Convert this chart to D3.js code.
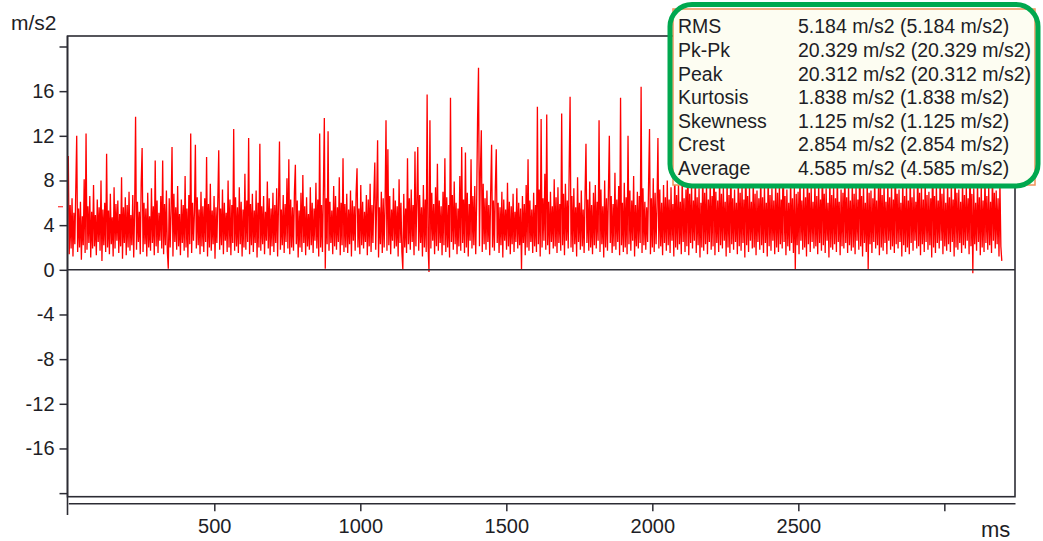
<!DOCTYPE html>
<html>
<head>
<meta charset="utf-8">
<script src="https://d3js.org/d3.v7.min.js"></script>
<style>
  body { margin: 0; background: #fff; }
  text { font-family: "Liberation Sans", Arial, sans-serif; fill: #1e1e26; }
</style>
</head>
<body>
<script>
// one sample every 3.2 ms, values in m/s2
var sampleMs = 3.2;
var signal = [
  10.2, 1.4, 5.8, 1.9, 6.4, 1.2, 5.1, 2.3, 7.2, 12.0, 1.6, 5.5, 2.0, 6.1, 0.9, 4.8, 2.2, 8.1, 1.5, 12.2,
  1.8, 5.7, 2.4, 6.6, 1.1, 5.2, 1.9, 7.6, 2.1, 4.9, 1.3, 6.3, 2.5, 5.6, 1.7, 8.0, 0.8, 5.4, 2.2, 6.0,
  1.6, 10.4, 2.0, 5.3, 1.4, 6.8, 2.3, 4.7, 1.2, 7.4, 1.9, 5.9, 2.6, 6.2, 1.5, 5.0, 2.1, 8.3, 1.0, 5.6,
  2.4, 6.5, 1.3, 5.8, 2.0, 7.0, 1.7, 4.9, 2.2, 6.7, 1.1, 5.4, 13.7, 1.8, 6.1, 2.5, 5.2, 1.4, 7.8, 10.9,
  1.6, 6.0, 2.3, 5.5, 1.2, 6.9, 2.0, 4.8, 1.7, 7.3, 2.4, 5.7, 1.3, 9.8, 2.1, 6.2, 1.5, 5.1, 2.6, 6.6,
  1.9, 9.8, 1.4, 5.9, 2.2, 7.1, 1.6, 0.1, 6.4, 2.0, 5.3, 11.0, 1.2, 6.8, 2.5, 5.6, 1.8, 7.5, 2.1, 5.0,
  1.3, 6.3, 2.4, 5.8, 1.7, 8.4, 2.0, 5.5, 1.1, 6.7, 2.3, 12.2, 1.5, 6.0, 2.6, 5.2, 11.2, 1.9, 6.5, 2.2,
  5.4, 1.4, 7.0, 2.1, 5.7, 1.6, 6.4, 2.5, 10.1, 1.2, 5.9, 2.0, 7.7, 1.7, 5.3, 2.3, 6.6, 1.0, 5.6, 2.4,
  6.2, 10.7, 1.8, 5.5, 2.2, 7.2, 1.4, 6.0, 2.6, 5.1, 1.6, 8.0, 2.0, 6.3, 1.3, 5.8, 2.4, 12.6, 1.7, 6.5,
  2.1, 5.6, 1.5, 7.4, 2.3, 6.1, 1.2, 5.4, 2.0, 8.6, 1.8, 6.2, 2.5, 11.8, 1.4, 5.9, 2.2, 6.8, 1.6, 5.3,
  2.4, 7.1, 1.1, 6.0, 2.0, 11.3, 1.7, 5.7, 2.3, 6.6, 1.4, 5.2, 2.6, 7.9, 1.9, 6.4, 1.3, 5.5, 2.1, 6.9,
  1.6, 5.8, 2.4, 7.3, 1.2, 6.1, 11.5, 1.8, 5.4, 2.2, 6.7, 1.5, 5.9, 2.5, 8.2, 1.9, 9.9, 1.4, 6.3, 2.0,
  5.6, 1.7, 7.0, 9.4, 2.3, 6.2, 1.1, 5.3, 2.0, 6.9, 1.6, 8.5, 2.4, 5.7, 1.3, 6.5, 2.1, 5.0, 1.8, 7.4,
  2.2, 6.0, 1.5, 5.5, 2.6, 7.8, 1.9, 6.3, 1.2, 12.2, 2.0, 5.8, 1.6, 7.2, 13.6, 0.1, 6.4, 2.3, 12.4, 1.7,
  6.1, 2.4, 5.3, 1.4, 7.5, 2.1, 6.6, 1.8, 5.6, 2.5, 8.3, 1.3, 6.0, 2.2, 10.0, 1.6, 5.9, 2.0, 6.8, 1.5,
  5.4, 2.3, 7.1, 1.2, 6.2, 2.6, 5.7, 1.7, 6.9, 9.1, 2.0, 5.5, 1.4, 7.6, 2.2, 6.1, 1.9, 5.2, 2.5, 6.7,
  1.3, 6.3, 2.1, 7.7, 1.6, 5.8, 2.4, 6.5, 9.6, 1.8, 6.0, 11.6, 1.1, 5.6, 2.3, 7.0, 1.5, 6.4, 2.0, 5.9,
  13.4, 1.7, 10.8, 2.2, 6.6, 1.4, 5.4, 2.6, 7.3, 1.9, 6.2, 2.1, 5.7, 1.2, 8.1, 2.4, 6.0, 1.6, 0.0, 6.8,
  2.0, 5.5, 1.5, 10.0, 2.3, 6.4, 1.8, 7.2, 2.5, 5.8, 1.3, 10.6, 2.1, 6.1, 11.0, 1.7, 6.7, 2.4, 5.6, 1.2,
  7.6, 2.0, 6.3, 1.6, 15.7, 2.2, -0.2, 13.4, 1.9, 6.9, 2.6, 5.9, 1.4, 7.4, 2.1, 9.5, 1.7, 6.2, 2.4, 5.7,
  1.3, 7.0, 2.2, 10.0, 1.6, 6.5, 2.0, 5.8, 1.1, 15.4, 2.5, 6.7, 1.8, 7.9, 2.3, 6.0, 1.4, 5.5, 2.1, 8.4,
  1.7, 11.0, 2.4, 6.3, 1.5, 10.5, 2.0, 6.9, 1.2, 5.9, 2.6, 9.9, 1.9, 6.6, 2.2, 7.5, 1.4, 6.1, 13.5, 18.1,
  2.1, 8.8, 12.5, 1.6, 7.7, 2.3, 6.4, 1.8, 7.1, 2.5, 5.8, 1.3, 6.9, 11.2, 2.0, 6.2, 1.7, 7.4, 10.8, 2.4,
  6.0, 1.5, 5.6, 2.2, 7.0, 1.1, 6.3, 2.6, 5.4, 1.8, 7.8, 2.1, 6.1, 1.4, 5.7, 2.3, 6.8, 1.6, 5.2, 2.5,
  7.3, 1.9, 6.0, 2.2, 5.5, 0.0, 6.6, 2.4, 5.9, 1.3, 7.6, 2.0, 9.9, 1.7, 6.2, 2.5, 5.4, 1.5, 6.9, 2.1,
  5.8, 1.6, 14.6, 2.3, 7.2, 1.2, 13.5, 2.0, 6.4, 2.6, 8.6, 1.8, 13.9, 2.2, 6.1, 1.4, 7.0, 2.5, 5.7, 1.9,
  8.1, 2.1, 6.5, 1.5, 7.4, 2.4, 5.9, 1.7, 14.0, 2.2, 6.8, 1.3, 7.7, 2.6, 6.2, 1.9, 8.9, 15.5, 2.0, 6.6,
  1.6, 7.3, 2.3, 5.6, 1.2, 8.3, 2.5, 6.0, 1.8, 7.1, 2.1, 5.4, 1.5, 6.7, 11.3, 2.4, 6.3, 1.7, 7.9, 2.0,
  5.8, 1.4, 6.9, 2.2, 7.6, 1.9, 6.1, 2.6, 13.4, 1.6, 7.2, 2.3, 5.7, 1.1, 8.0, 2.0, 6.4, 1.7, 7.0, 12.0,
  2.4, 6.6, 1.5, 5.9, 2.1, 8.7, 1.8, 6.3, 2.5, 7.5, 1.3, 15.4, 2.2, 6.0, 1.6, 7.8, 2.0, 6.5, 1.4, 12.0,
  2.3, 7.1, 1.7, 6.2, 2.6, 8.4, 1.2, 5.8, 2.1, 7.0, 1.9, 6.6, 2.4, 16.4, 1.5, 7.3, 2.2, 6.1, 1.8, 5.6,
  2.5, 7.7, 12.6, 1.4, 6.4, 2.0, 8.2, 1.6, 6.9, 2.3, 5.7, 11.8, 1.9, 7.2, 2.1, 6.0, 1.3, 7.6, 2.4, 6.5,
  1.7, 8.0, 2.2, 6.3, 1.5, 7.4, 2.6, 5.9, 1.2, 9.1, 2.0, 6.7, 1.8, 7.9, 2.3, 6.1, 1.4, 8.5, 2.5, 6.4,
  1.6, 7.2, 2.1, 10.3, 1.3, 6.8, 2.4, 7.6, 1.9, 6.2, 2.6, 8.8, 1.5, 6.5, 2.2, 7.3, 1.1, 6.0, 2.0, 9.4,
  1.7, 6.9, 2.3, 7.8, 1.4, 6.3, 2.5, 8.2, 1.8, 6.6, 2.1, 11.0, 1.3, 7.0, 2.4, 6.2, 1.6, 8.6, 2.2, 6.8,
  1.9, 7.5, 2.6, 6.1, 1.2, 8.0, 2.0, 6.7, 1.5, 9.7, 2.3, 6.4, 1.8, 7.2, 2.5, 6.0, 1.4, 8.4, 2.1, 6.9,
  1.7, 7.7, 2.4, 6.3, 1.1, 10.6, 2.2, 6.6, 1.6, 7.4, 2.6, 6.1, 1.9, 8.3, 2.0, 6.8, 1.3, 7.1, 2.5, 6.4,
  1.8, 8.9, 2.2, 6.5, 1.5, 7.6, 2.4, 6.0, 1.2, 9.0, 2.1, 6.7, 1.7, 7.3, 2.6, 6.2, 1.4, 8.1, 2.0, 6.9,
  1.6, 7.8, 2.3, 6.3, 1.9, 11.4, 2.5, 6.6, 1.3, 7.2, 2.1, 6.0, 1.7, 8.5, 2.4, 6.4, 1.5, 7.5, 0.0, 6.8,
  2.2, 7.0, 1.4, 8.7, 2.6, 6.2, 1.8, 7.7, 2.0, 6.5, 1.2, 9.3, 2.3, 6.9, 1.6, 7.4, 2.5, 6.1, 1.9, 8.2,
  2.1, 6.6, 1.4, 7.9, 2.4, 6.3, 1.7, 10.1, 2.2, 6.8, 1.5, 7.3, 2.6, 6.0, 1.1, 8.4, 2.0, 6.7, 1.8, 7.6,
  2.3, 6.4, 1.6, 8.8, 2.5, 6.1, 1.3, 7.2, 2.1, 6.9, 1.9, 9.5, 2.4, 6.5, 1.5, 7.8, 2.2, 6.2, 1.7, 8.0,
  2.0, 6.8, 1.4, 7.5, 2.6, 6.3, 1.8, 10.9, 2.1, 6.6, 1.2, 7.7, 2.4, 6.0, 1.6, 8.3, 0.0, 6.9, 2.3, 7.1,
  1.5, 6.4, 2.5, 8.6, 1.9, 6.2, 2.2, 7.4, 1.3, 9.2, 2.0, 6.7, 1.7, 7.9, 2.4, 6.1, 1.4, 8.1, 2.6, 6.5,
  1.8, 7.6, 2.1, 6.3, 1.5, 10.4, 2.3, 6.8, 1.9, 7.2, 2.5, 6.0, 1.2, 8.4, 2.2, 6.6, 1.6, 7.8, 2.0, 6.2,
  1.4, 8.9, 2.4, 6.5, 1.7, 7.3, 2.6, 6.1, 1.9, 9.8, 2.1, 6.9, 1.3, 7.5, 2.3, 6.3, 1.6, 8.2, 2.5, 6.7,
  1.8, 7.0, 2.2, 6.4, 1.1, 11.2, 2.0, 6.6, 1.5, 7.7, 2.4, 6.2, 1.9, 8.6, 2.6, 6.8, 1.4, 7.4, 2.1, 6.0,
  1.7, 8.1, 2.3, 6.5, 1.6, 7.9, 2.5, 6.3, 1.2, 9.4, 2.0, 6.9, 1.8, 7.2, 2.4, 6.1, 1.5, 8.3, 2.2, 6.7,
  1.9, 7.6, 2.6, 6.4, 1.4, 10.2, 2.1, 6.8, -0.3, 7.3, 2.3, 6.0, 1.7, 8.0, 2.5, 6.5, 1.3, 7.7, 2.0, 6.2,
  1.6, 8.7, 2.4, 6.6, 1.8, 7.4, 2.2, 6.1, 1.5, 9.0, 2.6, 6.9, 1.9, 7.1, 2.3, 6.4, 1.2, 7.8, 2.1, 0.8
];

var yTicks = [-20, -16, -12, -8, -4, 0, 4, 8, 12, 16, 20];
var yTickLabels = ["", "-16", "-12", "-8", "-4", "0", "4", "8", "12", "16", ""];
var xTicks = [500, 1000, 1500, 2000, 2500, 3000];
var xTickLabels = ["500", "1000", "1500", "2000", "2500", ""];

var statNames = ["RMS", "Pk-Pk", "Peak", "Kurtosis", "Skewness", "Crest", "Average"];
var statValues = ["5.184", "20.329", "20.312", "1.838", "1.125", "2.854", "4.585"];
var unit = "m/s2";
var markerLevel = 5.65;

var svgWidth = 1043, svgHeight = 541;
var plotLeft = 67.5, plotRight = 1015, plotTop = 36, plotBottom = 496.7;

var svg = d3.select("body").append("svg")
  .attr("width", svgWidth)
  .attr("height", svgHeight);

var x = d3.scaleLinear().domain([0, 3242]).range([68.3, plotRight]);
var y = d3.scaleLinear().domain([-20.32, 20.94]).range([plotBottom, plotTop]);

// the trace
var line = d3.line()
  .x(function (d, i) { return x(i * sampleMs); })
  .y(function (d) { return y(d); });

svg.append("path")
  .datum(signal)
  .attr("d", line)
  .attr("fill", "none")
  .attr("stroke", "#ff0000")
  .attr("stroke-width", 1.3);

// plot frame and zero line
svg.append("rect")
  .attr("x", plotLeft).attr("y", plotTop)
  .attr("width", plotRight - plotLeft).attr("height", plotBottom - plotTop)
  .attr("fill", "none")
  .attr("stroke", "#2c2c34")
  .attr("stroke-width", 1.6);

svg.append("line")
  .attr("x1", plotLeft).attr("x2", plotRight)
  .attr("y1", y(0)).attr("y2", y(0))
  .attr("stroke", "#2c2c34")
  .attr("stroke-width", 1.6);

// Y axis
var yAxis = svg.append("g")
  .attr("transform", "translate(" + plotLeft + ",0)")
  .call(d3.axisLeft(y)
    .tickValues(yTicks)
    .tickSize(8)
    .tickPadding(5)
    .tickFormat(function (d, i) { return yTickLabels[i]; }));
yAxis.select(".domain").remove();
yAxis.selectAll("line").attr("stroke", "#2c2c34").attr("stroke-width", 1.5);
yAxis.selectAll("text").attr("font-size", 20).style("font-family", "Liberation Sans, Arial, sans-serif").attr("fill", "#1e1e26");

svg.append("line")
  .attr("x1", plotLeft).attr("x2", plotLeft)
  .attr("y1", plotTop).attr("y2", 515)
  .attr("stroke", "#2c2c34")
  .attr("stroke-width", 1.6);

// level marker on the left
svg.append("line")
  .attr("x1", 58).attr("x2", 63)
  .attr("y1", y(markerLevel)).attr("y2", y(markerLevel))
  .attr("stroke", "#ff3030")
  .attr("stroke-width", 1.2);

svg.append("text")
  .attr("x", 11).attr("y", 30)
  .attr("font-size", 21)
  .text(unit);

// X axis
var xAxis = svg.append("g")
  .attr("transform", "translate(0,503.3)")
  .call(d3.axisBottom(x)
    .tickValues(xTicks)
    .tickSize(8)
    .tickSizeOuter(0)
    .tickPadding(8)
    .tickFormat(function (d, i) { return xTickLabels[i]; }));
xAxis.select(".domain").attr("stroke", "#2c2c34").attr("stroke-width", 1.6);
xAxis.selectAll("line").attr("stroke", "#2c2c34").attr("stroke-width", 1.5);
xAxis.selectAll("text").attr("font-size", 20).style("font-family", "Liberation Sans, Arial, sans-serif").attr("fill", "#1e1e26");

svg.append("text")
  .attr("x", 981).attr("y", 537)
  .attr("font-size", 22)
  .text("ms");

// statistics box
var box = svg.append("g");
box.append("rect")
  .attr("x", 673).attr("y", 9)
  .attr("width", 362).attr("height", 176)
  .attr("fill", "#fdfdf2")
  .attr("stroke", "#f0935a")
  .attr("stroke-width", 1.5);

statNames.forEach(function (name, i) {
  box.append("text")
    .attr("x", 678).attr("y", 33.3 + i * 23.6)
    .attr("font-size", 19.5)
    .text(name);
  box.append("text")
    .attr("x", 798).attr("y", 33.3 + i * 23.6)
    .attr("font-size", 19.5)
    .text(statValues[i] + " " + unit + " (" + statValues[i] + " " + unit + ")");
});

box.append("rect")
  .attr("x", 670).attr("y", 4.5)
  .attr("width", 368).attr("height", 181.5)
  .attr("rx", 22).attr("ry", 22)
  .attr("fill", "none")
  .attr("stroke", "#00a84f")
  .attr("stroke-width", 5);
</script>
</body>
</html>
